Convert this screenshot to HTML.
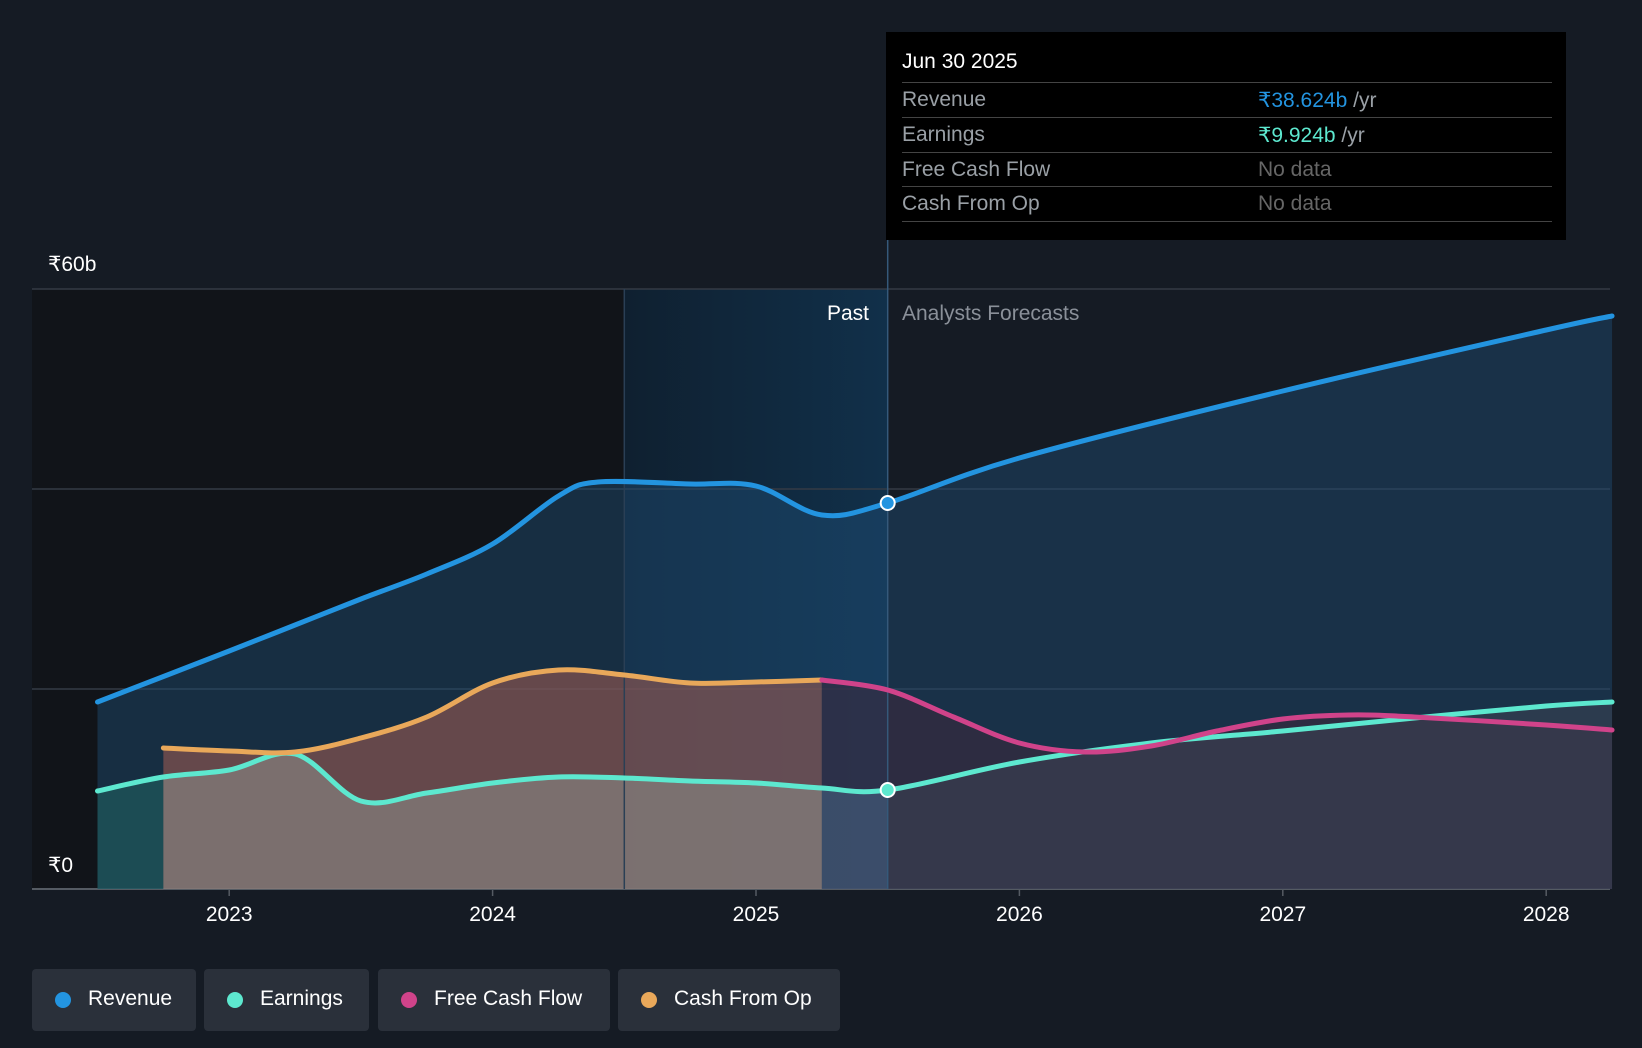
<!DOCTYPE html>
<html><head><meta charset="utf-8"><style>
html,body{margin:0;padding:0;background:#151b24;width:1642px;height:1048px;overflow:hidden;font-family:"Liberation Sans",sans-serif}
svg{position:absolute;left:0;top:0}
.tt{position:absolute;left:886px;top:32px;width:680px;height:208px;background:#000;color:#fff}
.tt .h{position:absolute;left:16px;top:18px;font-size:21px}
.row{position:absolute;left:16px;width:650px;height:34px;border-top:1px solid #444;font-size:21px;color:#9aa0a6}
.row span{position:absolute;top:5px}
.row .v{left:356px}
.leg{position:absolute;top:969px;height:62px;background:#2a303a;border-radius:4px;color:#fff;font-size:21px}
.leg i{position:absolute;left:23px;top:23px;width:16px;height:16px;border-radius:50%}
.leg span{position:absolute;left:56px;top:18px}
</style></head><body>
<svg id="chart" width="1642" height="1048"></svg>
<div class="tt">
<div class="h">Jun 30 2025</div>
<div class="row" style="top:50px"><span>Revenue</span><span class="v"><b style="font-weight:normal;color:#2394e0">₹38.624b</b> /yr</span></div>
<div class="row" style="top:85px"><span>Earnings</span><span class="v"><b style="font-weight:normal;color:#5de8cf">₹9.924b</b> /yr</span></div>
<div class="row" style="top:120px"><span>Free Cash Flow</span><span class="v" style="color:#666">No data</span></div>
<div class="row" style="top:154px;height:34px;border-bottom:1px solid #444"><span>Cash From Op</span><span class="v" style="color:#666">No data</span></div>
</div>
<div class="leg" style="left:32px;width:164px"><i style="background:#2394e0"></i><span>Revenue</span></div>
<div class="leg" style="left:204px;width:165px"><i style="background:#5de8cf"></i><span>Earnings</span></div>
<div class="leg" style="left:378px;width:232px"><i style="background:#d0438a"></i><span>Free Cash Flow</span></div>
<div class="leg" style="left:618px;width:222px"><i style="background:#e9a85a"></i><span>Cash From Op</span></div>
<script>
const revX=[2022.5,2023,2023.25,2023.5,2023.75,2024,2024.25,2024.4,2024.75,2025,2025.25,2025.5,2026,2027,2028,2028.25];
const revY=[18.7,23.8,26.4,29.0,31.5,34.5,39.3,40.7,40.5,40.3,37.4,38.6,43.1,49.8,55.9,57.3];
const earnX=[2022.5,2022.75,2023,2023.25,2023.5,2023.75,2024,2024.25,2024.5,2024.75,2025,2025.25,2025.5,2026,2026.5,2027,2027.5,2028,2028.25];
const earnY=[9.8,11.2,11.9,13.5,8.8,9.6,10.6,11.2,11.1,10.8,10.6,10.1,9.9,12.7,14.6,15.8,17.1,18.3,18.7];
const cfoX=[2022.75,2023,2023.25,2023.5,2023.75,2024,2024.25,2024.5,2024.75,2025,2025.25];
const cfoY=[14.1,13.8,13.7,15.1,17.2,20.6,21.9,21.4,20.6,20.7,20.9];
const fcfX=[2025.25,2025.5,2025.75,2026,2026.25,2026.5,2026.75,2027,2027.25,2027.5,2028,2028.25];
const fcfY=[20.9,19.9,17.2,14.6,13.7,14.3,15.8,17.0,17.4,17.2,16.4,15.9];
const yearTicks=[2023,2024,2025,2026,2027,2028];
const NOW=2025.5;
const X=t=>756+(t-2025)*263.4, Y=v=>889-v*10;
const svg=document.getElementById('chart');const NS='http://www.w3.org/2000/svg';
function mk(tag,a,name){const e=document.createElementNS(NS,tag);for(const k in a)e.setAttribute(k,a[k]);


svg.appendChild(e);return e;}
function pts(xs,ys){return xs.map((x,i)=>[X(x),Y(ys[i])]);}
function curve(p){let d=`M${p[0][0]},${p[0][1]}`;for(let i=0;i<p.length-1;i++){const p0=p[i-1]||p[i],p1=p[i],p2=p[i+1],p3=p[i+2]||p2;
d+=` C${p1[0]+(p2[0]-p0[0])/6},${p1[1]+(p2[1]-p0[1])/6} ${p2[0]-(p3[0]-p1[0])/6},${p2[1]-(p3[1]-p1[1])/6} ${p2[0]},${p2[1]}`;}return d;}
function area(p){return curve(p)+` L${p[p.length-1][0]},889 L${p[0][0]},889 Z`;}
const g=mk('defs',{},'defs');
g.innerHTML=`<linearGradient id="hl" x1="0" x2="1"><stop offset="0" stop-color="#0f2030"/><stop offset="1" stop-color="#11304a"/></linearGradient>
<clipPath id="cA"><rect x="0" y="0" width="${X(cfoX[0])}" height="1048"/></clipPath>
<clipPath id="cB"><rect x="${X(cfoX[0])}" y="0" width="${X(fcfX[0])-X(cfoX[0])}" height="1048"/></clipPath>
<clipPath id="cC"><rect x="${X(fcfX[0])}" y="0" width="${X(NOW)-X(fcfX[0])}" height="1048"/></clipPath>
<clipPath id="cD"><rect x="${X(NOW)}" y="0" width="1000" height="1048"/></clipPath>`;
mk('rect',{x:32,y:289,width:X(2024.5)-32,height:600,fill:'#111419'},'past-shade');
mk('rect',{x:X(2024.5),y:289,width:X(NOW)-X(2024.5),height:600,fill:'url(#hl)'},'highlight-shade');
[0,20,40,60].forEach(v=>mk('line',{x1:32,x2:1610,y1:Y(v),y2:Y(v),stroke:v==0?'#555b63':'#343b45','stroke-width':v==0?2:1.5},'gridline'));
const rp=pts(revX,revY),ep=pts(earnX,earnY),cp=pts(cfoX,cfoY),fp=pts(fcfX,fcfY);
mk('path',{d:area(rp),fill:'#1f4d75',opacity:0.45},'revenue-area');
mk('path',{d:area(cp),fill:'#9a5a52',opacity:0.6},'cfo-area');
mk('path',{d:area(fp),fill:'#3a2a3e',opacity:0.6},'fcf-area');
mk('path',{d:area(ep),fill:'#1f5a5c',opacity:0.7,'clip-path':'url(#cA)'},'earnings-area-early');
mk('path',{d:area(ep),fill:'#8a8a86',opacity:0.6,'clip-path':'url(#cB)'},'earnings-area-past');
mk('path',{d:area(ep),fill:'#4a6a8a',opacity:0.5,'clip-path':'url(#cC)'},'earnings-area-recent');
mk('path',{d:area(ep),fill:'#3c4454',opacity:0.55,'clip-path':'url(#cD)'},'earnings-area-forecast');
mk('line',{x1:X(2024.5),x2:X(2024.5),y1:289,y2:889,stroke:'#2a3f55','stroke-width':1.5},'past-divider');
mk('line',{x1:X(NOW),x2:X(NOW),y1:240,y2:889,stroke:'#35597a','stroke-width':1.5},'now-line');
mk('path',{d:curve(rp),fill:'none',stroke:'#2394e0','stroke-width':5,'stroke-linecap':'round'},'revenue-line');
mk('path',{d:curve(ep),fill:'none',stroke:'#5de8cf','stroke-width':5,'stroke-linecap':'round'},'earnings-line');
mk('path',{d:curve(cp),fill:'none',stroke:'#e9a85a','stroke-width':5,'stroke-linecap':'round'},'cfo-line');
mk('path',{d:curve(fp),fill:'none',stroke:'#d0438a','stroke-width':5,'stroke-linecap':'round'},'fcf-line');
mk('circle',{cx:X(NOW),cy:Y(38.6),r:7,fill:'#2394e0',stroke:'#fff','stroke-width':2},'revenue-marker');
mk('circle',{cx:X(NOW),cy:Y(9.9),r:7,fill:'#5de8cf',stroke:'#fff','stroke-width':2},'earnings-marker');
yearTicks.forEach(t=>{mk('line',{x1:X(t),x2:X(t),y1:889,y2:896,stroke:'#555b63','stroke-width':1.5},'x-tick');
const e=mk('text',{x:X(t),y:921,fill:'#fff','font-size':21,'text-anchor':'middle'},'x-tick-label');e.textContent=t;});
let e=mk('text',{x:48,y:271,fill:'#fff','font-size':21},'y-label-60b');e.textContent='₹60b';
e=mk('text',{x:48,y:872,fill:'#fff','font-size':21},'y-label-0');e.textContent='₹0';
e=mk('text',{x:869,y:320,fill:'#fff','font-size':21,'text-anchor':'end'},'past-label');e.textContent='Past';
e=mk('text',{x:902,y:320,fill:'#8a9099','font-size':21},'forecast-label');e.textContent='Analysts Forecasts';
</script>
</body></html>
